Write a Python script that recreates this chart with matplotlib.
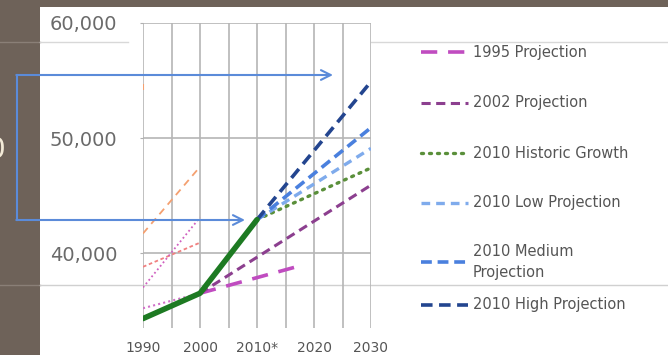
import matplotlib.pyplot as plt
from matplotlib.patches import Rectangle

W, H = 668, 355

# years on the category axis (gridline every 5 years, label every 10)
years = [1990, 1995, 2000, 2005, 2010, 2015, 2020, 2025, 2030]
tick_years = [1990, 2000, 2010, 2020, 2030]
tick_labels = ['1990', '2000', '2010*', '2020', '2030']
y_ticks = [40000, 50000, 60000]
y_labels = ['40,000', '50,000', '60,000']

# historic series (solid green)
hist_x = [1990, 2000, 2010]
hist_y = [34300, 36500, 42900]

# projections
p1995_x = [2000, 2018]
p1995_y = [36500, 38950]
p2002_x = [2000, 2030]
p2002_y = [36500, 45900]
proj_x = [2010, 2030]
growth_y = [42900, 47400]
low_y = [42900, 49100]
med_y = [42900, 50900]
high_y = [42900, 54900]

# faint leftover lines between 1990 and 2000
left_x = [1990, 2000]
orange_y = [41700, 47500]
salmon_y = [38800, 40900]
pink_y = [37000, 43100]
pink_low_y = [35200, 36500]
orange_top = 54400

legend_labels = ['1995 Projection', '2002 Projection', '2010 Historic Growth',
                 '2010 Low Projection', '2010 Medium\nProjection', '2010 High Projection']

fig = plt.figure(figsize=(W / 100, H / 100), dpi=100)
fig.patch.set_facecolor('#6e6259')

# background: white slide panel and the slide's thin rules
bg = fig.add_axes([0, 0, 1, 1], zorder=0)
bg.set_xlim(0, W)
bg.set_ylim(H, 0)
bg.axis('off')
bg.add_patch(Rectangle((40, 7), W - 40, H, facecolor='white', edgecolor='none'))
bg.plot([0, 40], [42, 42], color='#8a7f77', lw=1)
bg.plot([40, 128], [42, 42], color='#d8d8d8', lw=1)
bg.plot([371, W], [42, 42], color='#d8d8d8', lw=1)
bg.plot([0, 40], [285, 285], color='#8a7f77', lw=1)
bg.plot([40, W], [285, 285], color='#d0d0d0', lw=1)
bg.text(5, 150, '0', ha='right', va='center', fontsize=20, color='#f3ead7')

# main chart
ax = fig.add_axes([143 / W, 1 - 328 / H, (371 - 143) / W, (328 - 23) / H], zorder=1)
ax.set_facecolor('none')
ax.set_xlim(1990, 2030)
ax.set_ylim(33480, 60000)
for s in ax.spines.values():
    s.set_visible(False)
ax.set_xticks(years, minor=True)
ax.set_xticks(tick_years)
ax.set_xticklabels(tick_labels, fontsize=10, color='#555555')
ax.set_yticks(y_ticks)
ax.set_yticklabels(y_labels, fontsize=14, color='#6a6a6a')
ax.tick_params(axis='x', which='both', length=0, pad=9)
ax.tick_params(axis='y', length=2.5, color='#b0b0b0', pad=16)
ax.grid(True, which='both', axis='x', color='#b5b5b5', lw=1.2)
ax.grid(True, which='major', axis='y', color='#b5b5b5', lw=1.2)
ax.set_axisbelow(True)

# faint lines
ax.plot(left_x, orange_y, color='#f4a070', lw=1.3, dashes=(4, 3))
ax.plot(left_x, salmon_y, color='#f08080', lw=1.3, dashes=(2, 1.5))
ax.plot(left_x, pink_y, color='#d060c0', lw=1.3, dashes=(1, 1.5))
ax.plot(left_x, pink_low_y, color='#d070c8', lw=1.5, dashes=(1, 1.5))
ax.plot([1990], [orange_top], marker='|', color='#f4a070', ms=5, mew=1.5)

styles = [
    dict(color='#c04cc0', lw=2.6, dashes=(4.5, 3)),
    dict(color='#8c3f8f', lw=2.2, dashes=(3, 1.8)),
    dict(color='#5a8f3a', lw=2.4, dashes=(0.6, 1.8), dash_capstyle='round'),
    dict(color='#7fabec', lw=2.4, dashes=(2.6, 1.8)),
    dict(color='#4a80de', lw=2.6, dashes=(3, 1.6)),
    dict(color='#23458f', lw=2.6, dashes=(3.2, 1.8)),
]

ax.plot(p1995_x, p1995_y, **styles[0])
ax.plot(p2002_x, p2002_y, **styles[1])
ax.plot(proj_x, growth_y, **styles[2])
ax.plot(proj_x, low_y, **styles[3])
ax.plot(proj_x, med_y, **styles[4])
ax.plot(proj_x, high_y, **styles[5])
ax.plot(hist_x, hist_y, color='#1d7a22', lw=4, solid_capstyle='round')

# overlay: legend and blue bracket arrows
ov = fig.add_axes([0, 0, 1, 1], zorder=2)
ov.set_xlim(0, W)
ov.set_ylim(H, 0)
ov.axis('off')

rows = [52, 103, 153, 203, 262, 305]
for lbl, st, yy in zip(legend_labels, styles, rows):
    ov.plot([421, 468], [yy, yy], **st)
    ov.text(473, yy, lbl, fontsize=10.5, color='#555555', va='center',
            linespacing=1.5)

arrow_c = '#5b8bd9'
ov.plot([17, 17], [75, 220], color=arrow_c, lw=1.5)
for yy, x_end in [(75, 333), (220, 245)]:
    ov.annotate('', xy=(x_end, yy), xytext=(16.3, yy),
                arrowprops=dict(arrowstyle='->,head_length=0.7,head_width=0.35',
                                color=arrow_c, lw=1.5, shrinkA=0, shrinkB=0))

fig.savefig('out.png', dpi=100, facecolor=fig.get_facecolor())
